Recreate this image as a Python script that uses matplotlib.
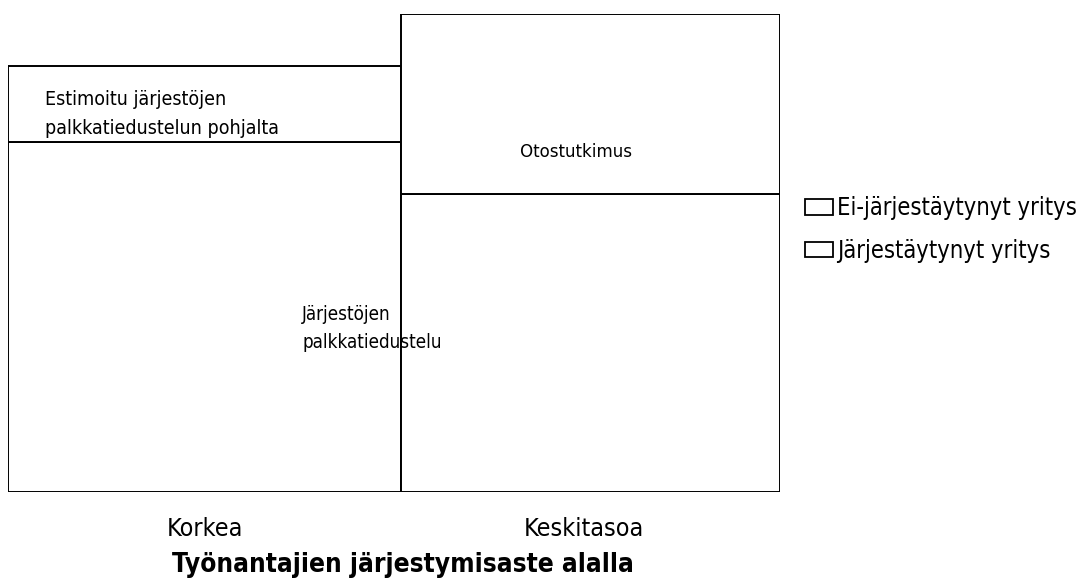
import matplotlib.pyplot as plt
from matplotlib.patches import Patch
import numpy as np

plt.rcParams['font.family'] = ['DejaVu Sans']
plt.rcParams['font.stretch'] = 'condensed'

# Marimekko data: column widths and segment heights (bottom: organised firms)
categories = ['Korkea', 'Keskitasoa']
col_widths = [50.9, 49.1]
organized = [73.2, 62.3]
unorganized = [15.9, 37.7]
series_names = ['Ei-järjestäytynyt yritys', 'Järjestäytynyt yritys']

fig = plt.figure(figsize=(10.83, 5.87), dpi=100)
ax = fig.add_axes([8 / 1083, 95 / 587, 772 / 1083, 478 / 587])

lefts = np.concatenate([[0], np.cumsum(col_widths)[:-1]])
ax.bar(lefts, organized, width=col_widths, align='edge',
       facecolor='white', edgecolor='black', lw=1.4)
ax.bar(lefts, unorganized, width=col_widths, bottom=organized, align='edge',
       facecolor='white', edgecolor='black', lw=1.4)

ax.set_xlim(0, sum(col_widths))
ax.set_ylim(0, 100)
ax.axis('off')

# segment annotations
ax.text(lefts[0] + 4.8, organized[0] + unorganized[0] * 0.37,
        'Estimoitu järjestöjen\npalkkatiedustelun pohjalta',
        fontsize=14, va='center', ha='left', linespacing=1.7)
ax.text(lefts[1] + col_widths[1] * 0.5 - 1.9, organized[1] + unorganized[1] * 0.235,
        'Otostutkimus', fontsize=13.3, va='center', ha='center')
ax.text(lefts[1] - 12.8, organized[1] * 0.55,
        'Järjestöjen\npalkkatiedustelu', fontsize=13.5, va='center', ha='left',
        linespacing=1.6)

# category labels below columns (second one sits a little left of centre)
label_shift = [0, -7]
for left, w, cat, dx in zip(lefts, col_widths, categories, label_shift):
    x_px = 8 + (left + w / 2) / sum(col_widths) * 772 + dx
    fig.text(x_px / 1083, 1 - 529 / 587, cat, fontsize=18,
             ha='center', va='center')

fig.text(403 / 1083, 1 - 565 / 587, 'Työnantajien järjestymisaste alalla',
         fontsize=18.8, fontweight='bold', ha='center', va='center')

handles = [Patch(facecolor='white', edgecolor='black', lw=1.3) for _ in series_names]
fig.legend(handles, series_names, loc='upper left',
           bbox_to_anchor=(805 / 1083, 1 - 196 / 587), frameon=False,
           fontsize=17, handlelength=1.2, handleheight=0.65, handletextpad=0.17,
           labelspacing=0.8, borderpad=0, borderaxespad=0)

fig.savefig('out.png', dpi=100)
